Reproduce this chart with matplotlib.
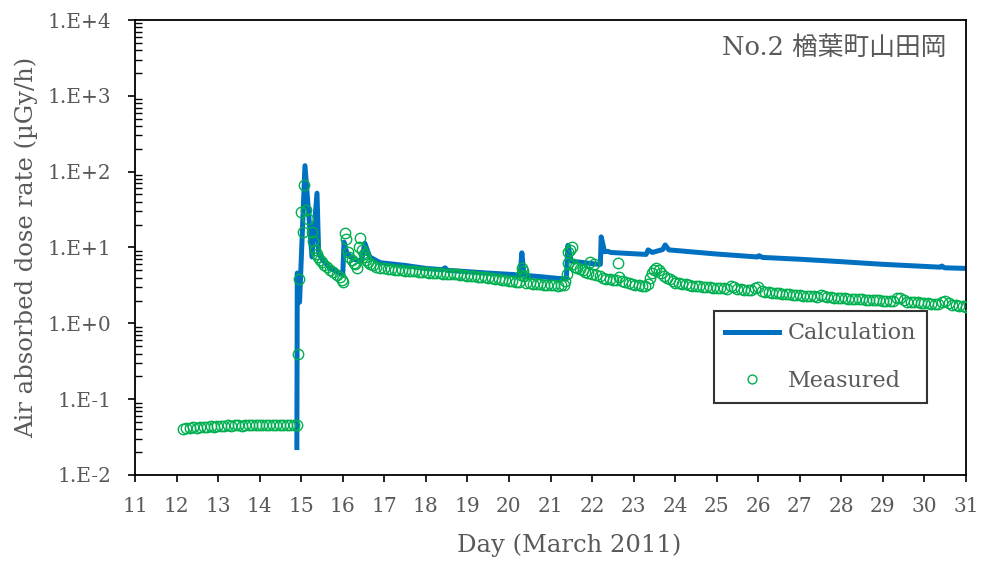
import numpy as np
import matplotlib
matplotlib.use("Agg")
import matplotlib.pyplot as plt
from matplotlib.ticker import LogLocator, NullFormatter

# -----------------------------
# Data (day of March 2011, dose rate in uGy/h)
# -----------------------------
calc_day = [14.895, 14.905, 14.96, 15.09, 15.26, 15.38, 15.42, 15.52, 15.70, 16.00,
            16.03, 16.10, 16.25, 16.45, 16.53, 16.65, 16.90, 17.50, 18.00, 18.40,
            18.46, 18.52, 19.00, 19.50, 20.10, 20.27, 20.31, 20.36, 20.80, 21.20,
            21.38, 21.42, 21.50, 22.15, 22.20, 22.22, 22.30, 22.38, 22.45, 23.30,
            23.35, 23.45, 23.70, 23.76, 23.85, 25.00, 25.98, 26.02, 26.10, 27.00,
            28.00, 29.00, 30.38, 30.42, 30.48, 31.00]
calc_rate = [0.023, 4.6, 1.9, 120, 7.5, 52, 8.4, 6.8, 5.3, 4.4,
             11.8, 8.4, 7.0, 6.6, 11.4, 7.5, 6.3, 5.8, 5.3, 5.1,
             5.4, 5.0, 4.8, 4.6, 4.4, 4.3, 8.5, 4.3, 4.1, 3.9,
             3.85, 10.7, 6.6, 6.0, 6.0, 13.8, 8.8, 8.9, 8.6, 8.1,
             9.3, 8.6, 9.4, 10.8, 9.3, 8.2, 7.5, 7.8, 7.4, 7.0,
             6.5, 6.0, 5.5, 5.7, 5.4, 5.3]

# measured, regular 2-hourly stretches (start day + values)
step = 1.0 / 12.0
meas_bg_start = 12.15
meas_bg = [0.041, 0.042, 0.042, 0.043, 0.042, 0.043, 0.043, 0.043, 0.044, 0.043,
           0.044, 0.044, 0.044, 0.045, 0.044, 0.045, 0.045, 0.044, 0.045, 0.046,
           0.045, 0.045, 0.046, 0.045, 0.046, 0.046, 0.045, 0.046, 0.046, 0.045,
           0.046, 0.046, 0.045, 0.046]

meas_fall1_start = 17.0
meas_fall1 = [5.30, 5.24, 5.18, 5.12, 5.06, 5.00, 4.95, 4.91, 4.87, 4.83, 4.79, 4.74,
              4.70, 4.67, 4.64, 4.60, 4.57, 4.54, 4.50, 4.52, 4.46, 4.42, 4.38, 4.34,
              4.25, 4.21, 4.17, 4.13, 4.09, 4.05, 4.00, 3.95, 3.89, 3.83, 3.77, 3.71,
              3.65, 3.60, 3.56, 3.52]

meas_fall2_start = 20.42
meas_fall2 = [3.45, 3.40, 3.35, 3.30, 3.26, 3.22, 3.20, 3.18, 3.16, 3.15, 3.17, 3.25]

meas_tail_start = 24.0
meas_tail = [3.45, 3.38, 3.32, 3.26, 3.20, 3.15, 3.11, 3.07, 3.04, 3.01, 2.98, 2.95,
             2.92, 2.90, 2.88, 2.86, 3.15, 3.05, 2.84, 2.80, 2.77, 2.75, 2.73, 2.95,
             3.05, 2.70, 2.62, 2.58, 2.55, 2.52, 2.48, 2.46, 2.43, 2.41, 2.39, 2.37,
             2.34, 2.32, 2.30, 2.29, 2.27, 2.25, 2.38, 2.30, 2.22, 2.20, 2.19, 2.17,
             2.15, 2.14, 2.12, 2.11, 2.09, 2.08, 2.07, 2.06, 2.04, 2.03, 2.02, 2.01,
             2.00, 1.99, 1.98, 1.99, 2.18, 2.15, 2.02, 1.94, 1.93, 1.91, 1.90, 1.88,
             1.86, 1.84, 1.82, 1.81, 1.80, 1.92, 1.95, 1.86, 1.75, 1.72, 1.70, 1.68,
             1.64]

# measured, irregular stretches around the plume arrivals
meas_spike1_day = [14.92, 14.95, 14.99, 15.04, 15.07, 15.12, 15.17, 15.26, 15.29, 15.33,
                   15.37, 15.40, 15.45, 15.50, 15.56, 15.62, 15.70, 15.77, 15.85, 15.93,
                   15.98, 16.01, 16.05, 16.08, 16.12, 16.16, 16.22, 16.26, 16.30, 16.34,
                   16.39, 16.42, 16.46, 16.50, 16.53, 16.57, 16.61, 16.66, 16.72, 16.80,
                   16.90]
meas_spike1 = [0.40, 3.8, 29, 16, 66, 31, 24, 16, 12, 9.2,
               8.2, 7.5, 6.9, 6.4, 5.9, 5.5, 5.1, 4.8, 4.4, 4.1,
               3.7, 3.5, 15.6, 13, 8.8, 7.6, 6.8, 6.3, 6.0, 5.3,
               10, 13.5, 9.2, 8.2, 7.5, 6.9, 6.4, 6.1, 5.8, 5.6,
               5.4]

meas_bump_day = [20.28, 20.31, 20.34, 20.37]
meas_bump = [4.3, 5.4, 4.9, 4.2]

meas_spike3_day = [21.36, 21.39, 21.41, 21.43, 21.47, 21.52, 21.55, 21.58, 21.63, 21.70,
                   21.77, 21.84, 21.90, 21.95, 22.00, 22.05, 22.10, 22.18, 22.26, 22.34,
                   22.42, 22.50, 22.58, 22.62, 22.66, 22.72, 22.80, 22.88, 22.96, 23.04,
                   23.12, 23.20, 23.28, 23.34, 23.40, 23.45, 23.50, 23.55, 23.60, 23.66,
                   23.72, 23.80, 23.88, 23.95]
meas_spike3 = [3.6, 4.5, 6.3, 8.6, 9.4, 10.0, 6.0, 5.6, 5.4, 5.2,
               5.0, 4.8, 4.6, 6.4, 4.5, 6.1, 4.4, 4.2, 4.0, 3.9,
               3.8, 3.75, 3.7, 6.3, 4.1, 3.6, 3.5, 3.4, 3.3, 3.25,
               3.2, 3.15, 3.15, 3.3, 4.0, 4.6, 5.1, 5.3, 5.1, 4.6,
               4.2, 4.0, 3.8, 3.6]

xticks = list(range(11, 32))
yticks = [1e-2, 1e-1, 1e0, 1e1, 1e2, 1e3, 1e4]
ytick_labels = ["1.E-2", "1.E-1", "1.E+0", "1.E+1", "1.E+2", "1.E+3", "1.E+4"]
site_label = "No.2 楢葉町山田岡"


def regular(start, vals):
    return start + step * np.arange(len(vals))


meas_day = np.concatenate([
    regular(meas_bg_start, meas_bg),
    meas_spike1_day,
    regular(meas_fall1_start, meas_fall1),
    meas_bump_day,
    regular(meas_fall2_start, meas_fall2),
    meas_spike3_day,
    regular(meas_tail_start, meas_tail),
])
meas_rate = np.concatenate([meas_bg, meas_spike1, meas_fall1, meas_bump,
                            meas_fall2, meas_spike3, meas_tail])

# -----------------------------
# Plot
# -----------------------------
plt.rcParams["font.family"] = ["DejaVu Serif", "Noto Sans CJK JP"]
text_col = "#595959"
blue = "#0070C0"
green = "#00B050"

fig = plt.figure(figsize=(9.82, 5.65), dpi=100)
ax = fig.add_axes([0.1375, 0.1593, 0.8462, 0.8053])

ax.plot(calc_day, calc_rate, color=blue, lw=3.6, solid_joinstyle="round",
        label="Calculation", zorder=2)
ax.plot(meas_day, meas_rate, ls="none", marker="o", ms=7.5, mfc="none",
        mec=green, mew=1.0, label="Measured", zorder=3)

ax.set_yscale("log")
ax.set_xlim(11, 31)
ax.set_ylim(1e-2, 1e4)

ax.set_xticks(xticks)
ax.set_xticklabels([str(d) for d in xticks])
ax.set_yticks(yticks)
ax.set_yticklabels(ytick_labels)
ax.yaxis.set_minor_locator(LogLocator(base=10, subs=np.arange(2, 10)))
ax.yaxis.set_minor_formatter(NullFormatter())

ax.tick_params(axis="both", which="major", labelsize=14.5, colors="black",
               labelcolor=text_col, direction="out", length=5, width=1.2)
ax.tick_params(axis="y", which="minor", direction="in", length=5, width=1.0)
ax.tick_params(axis="x", which="major", pad=11)
ax.tick_params(axis="y", which="major", pad=12)
for sp in ax.spines.values():
    sp.set_linewidth(1.3)
    sp.set_color("black")

ax.set_xlabel("Day (March 2011)", fontsize=17.5, color=text_col)
ax.xaxis.set_label_coords(0.523, -0.128)
ax.set_ylabel("Air absorbed dose rate (µGy/h)", fontsize=17.5, color=text_col,
              labelpad=7)

ax.text(0.977, 0.94, site_label, transform=ax.transAxes, ha="right", va="center",
        fontsize=18.5, color=text_col)

leg = ax.legend(loc="upper left", bbox_to_anchor=(0.697, 0.360), fontsize=16,
                frameon=True, fancybox=False, edgecolor="black",
                handlelength=2.4, handletextpad=0.4, labelspacing=1.15,
                borderpad=0.5, borderaxespad=0.0, markerscale=0.85)
leg.get_frame().set_linewidth(1.5)
for t in leg.get_texts():
    t.set_color(text_col)

fig.savefig("out.png", dpi=100, facecolor="white")
